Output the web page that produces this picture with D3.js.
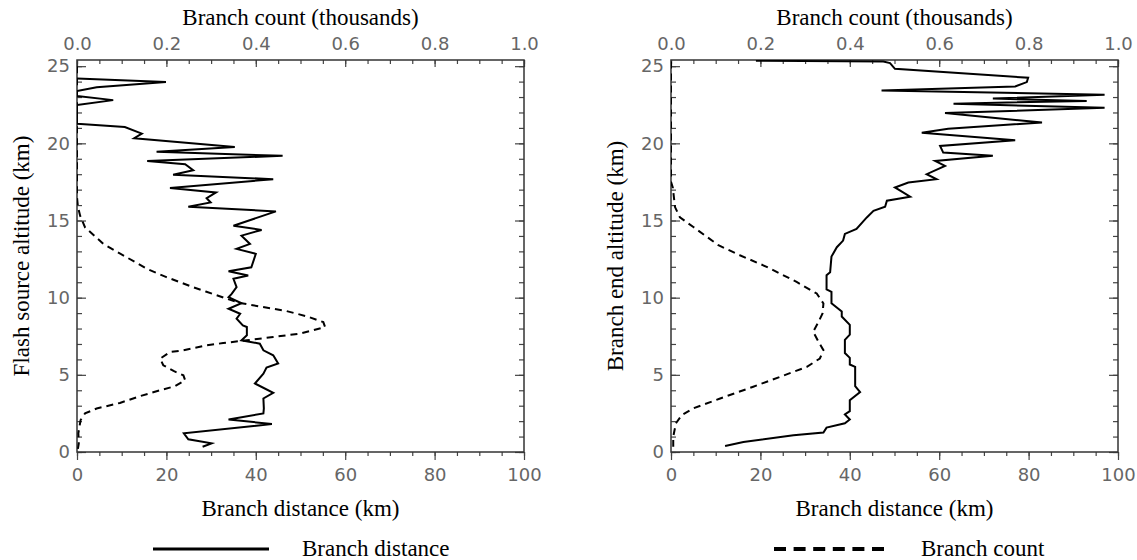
<!DOCTYPE html>
<html>
<head>
<meta charset="utf-8">
<script src="https://cdn.jsdelivr.net/npm/d3@7"></script>
<style>
  html, body { margin: 0; padding: 0; background: #fff; }
  svg { display: block; }
  .tick text { font-family: "DejaVu Sans", sans-serif; font-size: 18px; fill: #666; }
  .tick line { stroke: #444; stroke-width: 1.2; }
  text.title { font-family: "Liberation Serif", "DejaVu Serif", serif; font-size: 23px; fill: #000; }
</style>
</head>
<body>
<svg id="chart" width="1137" height="560"></svg>
<script>
// ---- tick values -------------------------------------------------------
const altTicks = [0, 5, 10, 15, 20, 25];
const distTicks = [0, 20, 40, 60, 80, 100];
const countTicks = [0, 0.2, 0.4, 0.6, 0.8, 1.0];
const countTickLabels = ["0.0", "0.2", "0.4", "0.6", "0.8", "1.0"];

// ---- flash source altitude panel --------------------------------------
// branch distance (km) by altitude (km)
const flashDistAlt = [24.2, 23.97, 23.64, 23.39, 23.06, 22.8, 22.48, 21.27, 21.06, 20.63, 20.33,
  19.77, 19.46, 19.19, 18.86, 18.65, 18.26, 17.96, 17.68, 17.1, 16.82, 16.45, 16.17, 15.89, 15.59,
  14.66, 14.39, 14.02, 13.48, 13.16, 12.84, 11.97, 11.71, 11.43, 11.22, 10.68, 10.25, 10.03, 9.64,
  9.28, 8.96, 8.64, 8.2, 8.1, 7.56, 7.24, 7.02, 6.59, 6.27, 5.73, 5.47, 5.08, 4.44, 3.83, 3.47,
  2.82, 2.5, 2.11, 1.81, 1.21, 0.82, 0.56, 0.34];
const flashDistKm = [0, 19.9, 4.4, 0, 0, 8.1, 0, 0, 10.7, 14.5, 12.8,
  35.3, 17.8, 46, 15.7, 24.2, 26, 21.5, 43.9, 20.8, 31.1, 29, 29.9, 24.9, 44.5,
  35, 41.3, 36.8, 38.7, 35.7, 40, 39, 33.9, 38.3, 35, 35.7, 34.6, 33.9, 36.8,
  33.9, 36.5, 35.7, 37.1, 38, 38, 36.8, 40.9, 41.7, 43.9, 45, 42.4, 41.7, 39.8, 43.9, 41.7,
  41.8, 41.7, 33.9, 43.6, 23.9, 24.9, 30.1, 28.1];
// branch count (thousands) by altitude (km)
const flashCountAlt = [25.0, 16.5, 15.9, 15.31, 14.56, 13.48, 12.62, 11.87, 11.33, 10.68, 10.4,
  9.93, 9.64, 9.43, 9.13, 8.79, 8.42, 8.1, 7.67, 7.45, 7.24, 7.06, 6.91, 6.59, 6.48, 6.05, 5.62,
  5.25, 4.97, 4.65, 4.26, 4.0, 3.62, 3.18, 2.82, 2.5, 2.07, 1.21, 0.56, 0.2];
const flashCount = [0, 0, 0.002, 0.007, 0.018, 0.059, 0.111, 0.156, 0.2, 0.26, 0.288,
  0.335, 0.368, 0.409, 0.469, 0.514, 0.551, 0.555, 0.499, 0.439, 0.38, 0.327, 0.29, 0.238, 0.208, 0.186, 0.193,
  0.216, 0.238, 0.242, 0.219, 0.186, 0.141, 0.096, 0.044, 0.018, 0.008, 0.003, 0.004, 0.002];

// ---- branch end altitude panel ----------------------------------------
const endDistAlt = [25.35, 25.3, 25.2, 24.83, 24.25, 23.97, 23.69, 23.43, 23.15, 22.9, 22.75,
  22.57, 22.3, 21.96, 21.35, 20.95, 20.69, 20.2, 19.83, 19.4, 19.2, 18.86, 18.54, 18.0, 17.68,
  17.46, 17.14, 16.54, 16.28, 15.89, 15.63, 15.2, 14.45, 14.13, 13.7, 13.27, 12.66, 11.65, 11.45,
  10.53, 10.38, 9.63, 9.1, 8.78, 8.24, 7.6, 7.27, 6.41, 6.1, 5.67, 5.52, 4.27, 3.88, 3.36, 2.65,
  2.44, 2.11, 1.86, 1.58, 1.26, 1.08, 0.65, 0.39];
const endDistKm = [19, 47.5, 49, 50.1, 79.9, 79.6, 77, 47.1, 97, 72, 93,
  63.2, 97, 61.3, 83, 62, 56.1, 77, 60.2, 60.9, 72, 59.1, 61.3, 57.2, 59.4,
  53.1, 50.1, 53.5, 48.3, 47.9, 45.3, 43.8, 41.5, 38.9, 38.5, 37.1, 35.9, 35.6, 34.8,
  34.8, 35.9, 35.9, 38.2, 38.2, 40.0, 40.0, 38.9, 38.9, 40.0, 40.0, 41.2, 41.2, 42.3, 40.0, 40.0,
  38.9, 40.0, 38.9, 34.8, 34.1, 27.4, 16.2, 12.1];
const endCountAlt = [25.3, 17.5, 17.14, 15.87, 15.2, 14.58, 13.4, 12.75, 12.0, 11.02, 10.27,
  9.62, 8.98, 8.43, 7.79, 7.14, 6.6, 6.06, 5.52, 4.87, 4.23, 3.47, 2.83, 2.39, 1.86, 0.99, 0.34];
const endCount = [0, 0, 0.004, 0.009, 0.02, 0.05, 0.106, 0.154, 0.214, 0.281, 0.326,
  0.341, 0.339, 0.33, 0.318, 0.33, 0.341, 0.333, 0.304, 0.244, 0.184, 0.11, 0.05, 0.024, 0.011, 0.005, 0.005];

// ---- layout ------------------------------------------------------------
const plotW = 447, plotTop = 60, plotBottom = 452;
const serif = "'Liberation Serif', 'DejaVu Serif', serif";
const panels = [
  { left: 77, yTitle: "Flash source altitude (km)",
    distAlt: flashDistAlt, dist: flashDistKm, countAlt: flashCountAlt, count: flashCount },
  { left: 671, yTitle: "Branch end altitude (km)",
    distAlt: endDistAlt, dist: endDistKm, countAlt: endCountAlt, count: endCount }
];

const svg = d3.select("#chart");
const zip = (a, b) => a.map((v, i) => [v, b[i]]);
const range = (a, b, s) => d3.range(Math.round((b - a) / s) + 1).map(i => +(a + i * s).toFixed(4));

function title(sel) {
  return sel.attr("class", "title").attr("font-family", serif).attr("font-size", 23).attr("fill", "#000");
}

panels.forEach((p, idx) => {
  const g = svg.append("g").attr("transform", `translate(${p.left},0)`);
  const x = d3.scaleLinear().domain([0, 100]).range([0, plotW]);
  const xc = d3.scaleLinear().domain([0, 1]).range([0, plotW]);
  const y = d3.scaleLinear().domain([0, 25.4]).range([plotBottom, plotTop]);

  const clipId = "clip" + idx;
  g.append("clipPath").attr("id", clipId).append("rect")
    .attr("x", 0).attr("y", plotTop).attr("width", plotW).attr("height", plotBottom - plotTop);

  // bottom axis: distance, outward ticks
  g.append("g").attr("transform", `translate(0,${plotBottom})`)
    .call(d3.axisBottom(x).tickValues(range(0, 100, 5)).tickSize(4).tickSizeOuter(0).tickFormat(""))
    .call(a => a.select(".domain").remove());
  g.append("g").attr("transform", `translate(0,${plotBottom})`)
    .call(d3.axisBottom(x).tickValues(distTicks).tickSize(8).tickPadding(8).tickSizeOuter(0).tickFormat(d3.format("d")))
    .call(a => a.select(".domain").remove());

  // top axis: count, inward ticks
  g.append("g").attr("transform", `translate(0,${plotTop})`)
    .call(d3.axisTop(xc).tickValues(range(0, 1, 0.05)).tickSize(-4).tickSizeOuter(0).tickFormat(""))
    .call(a => a.select(".domain").remove());
  g.append("g").attr("transform", `translate(0,${plotTop})`)
    .call(d3.axisTop(xc).tickValues(countTicks).tickSize(-7).tickPadding(10).tickSizeOuter(0)
      .tickFormat((d, i) => countTickLabels[i]))
    .call(a => a.select(".domain").remove());

  // left axis: altitude, inward ticks
  g.append("g")
    .call(d3.axisLeft(y).tickValues(range(0, 25, 1)).tickSize(-5).tickSizeOuter(0).tickFormat(""))
    .call(a => a.select(".domain").remove());
  g.append("g")
    .call(d3.axisLeft(y).tickValues(altTicks).tickSize(-9).tickPadding(7).tickSizeOuter(0).tickFormat(d3.format("d")))
    .call(a => a.select(".domain").remove());

  // right axis: altitude, inward ticks, no labels
  g.append("g").attr("transform", `translate(${plotW},0)`)
    .call(d3.axisRight(y).tickValues(range(0, 25, 1)).tickSize(-5).tickSizeOuter(0).tickFormat(""))
    .call(a => a.select(".domain").remove());
  g.append("g").attr("transform", `translate(${plotW},0)`)
    .call(d3.axisRight(y).tickValues(altTicks).tickSize(-9).tickSizeOuter(0).tickFormat(""))
    .call(a => a.select(".domain").remove());

  // frame
  g.append("rect").attr("x", 0).attr("y", plotTop).attr("width", plotW).attr("height", plotBottom - plotTop)
    .attr("fill", "none").attr("stroke", "#333").attr("stroke-width", 1.5);

  // branch distance (solid)
  const lineD = d3.line().x(d => x(d[1])).y(d => y(d[0]));
  g.append("path").attr("clip-path", `url(#${clipId})`)
    .datum(zip(p.distAlt, p.dist)).attr("d", lineD)
    .attr("fill", "none").attr("stroke", "#000").attr("stroke-width", 2).attr("stroke-linejoin", "miter");

  // branch count (dashed)
  const lineC = d3.line().x(d => xc(d[1])).y(d => y(d[0]));
  g.append("path").attr("clip-path", `url(#${clipId})`)
    .datum(zip(p.countAlt, p.count)).attr("d", lineC)
    .attr("fill", "none").attr("stroke", "#000").attr("stroke-width", 2).attr("stroke-dasharray", "7,5");

  // titles
  g.append("text").call(title).attr("x", plotW / 2).attr("y", 25)
    .attr("text-anchor", "middle").text("Branch count (thousands)");
  g.append("text").call(title).attr("x", plotW / 2).attr("y", 516)
    .attr("text-anchor", "middle").text("Branch distance (km)");
  g.append("text").call(title)
    .attr("transform", `translate(-48,${(plotTop + plotBottom) / 2}) rotate(-90)`)
    .attr("text-anchor", "middle").text(p.yTitle);
});

// ---- legend ------------------------------------------------------------
const legend = svg.append("g");
legend.append("line").attr("x1", 153).attr("x2", 269).attr("y1", 549).attr("y2", 549)
  .attr("stroke", "#000").attr("stroke-width", 3);
legend.append("text").call(title).attr("x", 302).attr("y", 556).text("Branch distance");
legend.append("line").attr("x1", 774).attr("x2", 884).attr("y1", 549).attr("y2", 549)
  .attr("stroke", "#000").attr("stroke-width", 4).attr("stroke-dasharray", "12,7.6");
legend.append("text").call(title).attr("x", 921).attr("y", 556).text("Branch count");
</script>
</body>
</html>
